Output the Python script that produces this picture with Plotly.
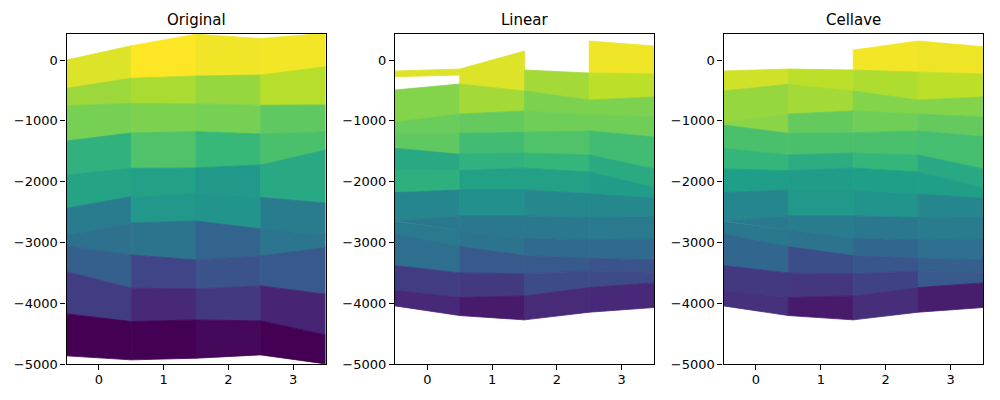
import plotly.graph_objects as go
from plotly.colors import sample_colorscale

x_edges = [-0.5, 0.5, 1.5, 2.5, 3.5]
x_ticks = [0, 1, 2, 3]
y_ticks = [0, -1000, -2000, -3000, -4000, -5000]
titles = ["Original", "Linear", "Cellave"]
N = None

original_edges = [
    [0, 235, 425, 355, 440],
    [-465, -300, -263, -247, -110],
    [-756, -712, -723, -745, -740],
    [-1332, -1200, -1178, -1217, -1178],
    [-1890, -1781, -1775, -1726, -1480],
    [-2439, -2247, -2192, -2263, -2351],
    [-2888, -2680, -2647, -2778, -2877],
    [-3058, -3206, -3288, -3222, -3085],
    [-3480, -3754, -3765, -3715, -3852],
    [-4176, -4302, -4275, -4291, -4521],
    [-4866, -4932, -4905, -4850, -4998],
]
original_values = [
    [0.95, 1.00, 0.98, 0.985],
    [0.85, 0.87, 0.84, 0.89],
    [0.79, 0.80, 0.79, 0.75],
    [0.64, 0.72, 0.67, 0.71],
    [0.58, 0.57, 0.53, 0.60],
    [0.42, 0.53, 0.52, 0.42],
    [0.37, 0.38, 0.32, 0.39],
    [0.30, 0.21, 0.26, 0.28],
    [0.18, 0.11, 0.17, 0.10],
    [0.00, 0.00, 0.02, 0.00],
]

linear_edges = [
    [-181, -148, 148, 312, 230],
    [-274, -247, -164, -214, -230],
    [-493, -395, -510, -658, -608],
    [-1025, -888, -838, -904, -937],
    [-1206, -1206, -1189, -1167, -1266],
    [-1452, -1551, -1529, -1562, -1792],
    [-1808, -1819, -1776, -1841, -2093],
    [-2181, -2137, -2137, -2197, -2274],
    [-2647, -2565, -2565, -2592, -2575],
    [-2658, -2795, -2932, -2959, -2943],
    [-2861, -3069, -3217, -3261, -3288],
    [-3381, -3502, -3518, -3469, -3491],
    [-3792, -3907, -3880, -3743, -3666],
    [-4044, -4203, -4274, -4148, -4071],
]
linear_values = [
    [0.95, 0.95, N, 0.975],
    [N, 0.95, 0.86, 0.90],
    [0.81, 0.86, 0.80, 0.80],
    [0.77, 0.76, 0.78, 0.78],
    [0.75, 0.69, 0.72, 0.69],
    [0.60, 0.64, 0.66, 0.61],
    [0.63, 0.57, 0.57, 0.55],
    [0.46, 0.50, 0.47, 0.47],
    [0.40, 0.40, 0.40, 0.41],
    [0.41, 0.38, 0.34, 0.34],
    [0.36, 0.28, 0.28, 0.26],
    [0.18, 0.17, 0.23, 0.23],
    [0.11, 0.07, 0.12, 0.11],
]

cellave_edges = [
    [-181, -148, 164, 312, 219],
    [-181, -148, -164, -197, -230],
    [-510, -400, -510, -658, -608],
    [-1025, -888, -838, -888, -937],
    [-1069, -1206, -1195, -1167, -1260],
    [-1452, -1562, -1529, -1562, -1792],
    [-1792, -1819, -1776, -1841, -2099],
    [-2181, -2137, -2137, -2203, -2274],
    [-2647, -2565, -2565, -2592, -2575],
    [-2658, -2795, -2932, -2959, -2943],
    [-2861, -3069, -3217, -3261, -3288],
    [-3381, -3502, -3518, -3469, -3491],
    [-3792, -3907, -3880, -3743, -3666],
    [-4044, -4203, -4274, -4148, -4071],
]
cellave_values = [
    [N, N, 0.985, 0.975],
    [0.93, 0.90, 0.88, 0.90],
    [0.84, 0.86, 0.81, 0.81],
    [0.82, 0.76, 0.78, 0.76],
    [0.71, 0.71, 0.71, 0.70],
    [0.66, 0.62, 0.66, 0.60],
    [0.56, 0.55, 0.56, 0.56],
    [0.46, 0.53, 0.52, 0.46],
    [0.41, 0.42, 0.40, 0.42],
    [0.40, 0.38, 0.33, 0.36],
    [0.33, 0.24, 0.27, 0.30],
    [0.17, 0.16, 0.20, 0.28],
    [0.14, 0.07, 0.13, 0.08],
]

panels = [
    (original_edges, original_values),
    (linear_edges, linear_values),
    (cellave_edges, cellave_values),
]
domains = [(0.0665, 0.3255), (0.395, 0.654), (0.7235, 0.983)]
y_domain = (1 - 364 / 400, 1 - 34 / 400)
font = "DejaVu Sans"

fig = go.Figure()
for p, (edges, values) in enumerate(panels):
    suffix = "" if p == 0 else str(p + 1)
    for r, row in enumerate(values):
        for c, v in enumerate(row):
            if v is None:
                continue
            color = sample_colorscale("Viridis", [v])[0]
            fig.add_trace(go.Scatter(
                x=[x_edges[c], x_edges[c + 1], x_edges[c + 1], x_edges[c], x_edges[c]],
                y=[edges[r][c], edges[r][c + 1], edges[r + 1][c + 1], edges[r + 1][c], edges[r][c]],
                mode="lines", fill="toself", fillcolor=color,
                line=dict(color=color, width=0.8),
                hoverinfo="skip", showlegend=False,
                xaxis="x" + suffix, yaxis="y" + suffix,
            ))
    axis_style = dict(
        showgrid=False, zeroline=False, showline=True, mirror=True, automargin=False,
        linecolor="black", linewidth=1.1, ticks="outside", ticklen=5,
        tickwidth=1.1, tickcolor="black",
        tickfont=dict(family=font, size=13, color="black"),
    )
    fig.update_layout({
        "xaxis" + suffix: dict(domain=domains[p], range=[-0.5, 3.5], tickvals=x_ticks,
                               anchor="y" + suffix, ticklabelstandoff=-2, **axis_style),
        "yaxis" + suffix: dict(domain=y_domain, range=[-5000, 428], tickvals=y_ticks,
                               anchor="x" + suffix, **axis_style),
    })
    fig.add_annotation(
        text=titles[p], xref="x" + suffix + " domain", yref="y" + suffix + " domain",
        x=0.5, y=1, yshift=3, xanchor="center", yanchor="bottom", showarrow=False,
        font=dict(family=font, size=15, color="black"),
    )

fig.update_layout(
    width=1000, height=400, margin=dict(l=0, r=0, t=0, b=0),
    paper_bgcolor="white", plot_bgcolor="white",
)
fig.write_html("out.html", config={"displayModeBar": False},
               post_script="document.body.style.margin='0';")
